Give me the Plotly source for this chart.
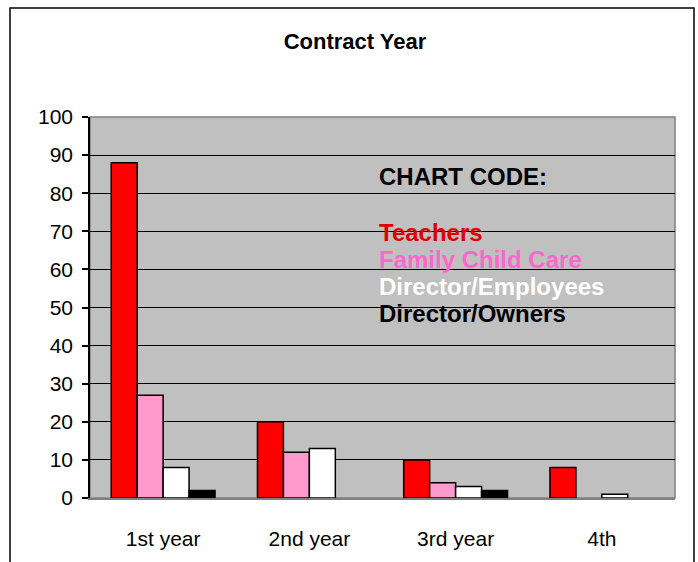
import plotly.graph_objects as go

# ── Data ──
CATEGORIES = ["1st year", "2nd year", "3rd year", "4th"]
TEACHERS = [88, 20, 10, 8]
FAMILY_CHILD_CARE = [27, 12, 4, 0]
DIRECTOR_EMPLOYEES = [8, 13, 3, 1]
DIRECTOR_OWNERS = [2, 0, 2, 0]
Y_TICKS = [0, 10, 20, 30, 40, 50, 60, 70, 80, 90, 100]

SERIES = [
    ("Teachers", TEACHERS, "#FF0000"),
    ("Family Child Care", FAMILY_CHILD_CARE, "#FF99CC"),
    ("Director/Employees", DIRECTOR_EMPLOYEES, "#FFFFFF"),
    ("Director/Owners", DIRECTOR_OWNERS, "#000000"),
]
LEGEND_COLORS = ["#E00000", "#FF66CC", "#FFFFFF", "#000000"]

FONT = "Liberation Sans, Arial, sans-serif"

fig = go.Figure()
for name, vals, color in SERIES:
    fig.add_trace(go.Bar(
        x=CATEGORIES, y=vals, name=name,
        # no outline on empty bars
        marker=dict(color=color, line=dict(color="#000000",
                                           width=[0 if v == 0 else 1.5 for v in vals])),
        showlegend=False,
    ))

# ── Plot area: l=90 .. 675, t=117 .. 498 ──
L, R, T, B = 90, 23, 117, 64
W, H = 698, 562
pw, ph = W - L - R, H - T - B

fig.update_layout(
    width=W, height=H,
    margin=dict(l=L, r=R, t=T, b=B, pad=0),
    paper_bgcolor="white",
    plot_bgcolor="#C0C0C0",
    barmode="group",
    bargap=0.29,
    bargroupgap=0,
    font=dict(family=FONT, size=21, color="#000000"),
    title=dict(text="<b>Contract Year</b>", x=355 / W, xanchor="center",
               y=1 - 41 / H, yanchor="middle", font=dict(size=22, family=FONT)),
)

fig.update_yaxes(
    range=[0, 100], tickvals=Y_TICKS, showgrid=True, gridcolor="#000000", gridwidth=1.4,
    ticks="outside", ticklen=6, tickcolor="#000000", tickwidth=1.5,
    showline=True, linecolor="#000000", linewidth=1.5,
    ticklabelstandoff=5, tickfont=dict(size=21), zeroline=False, automargin=False,
)
fig.update_xaxes(
    showline=True, linecolor="#808080", linewidth=1.5,
    ticks="outside", ticklen=21, tickcolor="rgba(0,0,0,0)",
    tickfont=dict(size=21), automargin=False,
)

# plot-area border (top/right grey)
fig.add_shape(type="rect", xref="paper", yref="paper", x0=0, x1=1, y0=0, y1=1,
              line=dict(color="#808080", width=1.5), layer="below")


def px_x(x):
    return (x - L) / pw


def px_y(y):
    return (H - B - y) / ph


# outer chart frame
fig.add_shape(type="rect", xref="paper", yref="paper",
              x0=px_x(10), x1=px_x(694), y0=px_y(570), y1=px_y(8),
              line=dict(color="#000000", width=1.5))

# text legend
fig.add_annotation(text="<b>CHART CODE:</b>", xref="paper", yref="paper",
                   x=px_x(377), y=px_y(176), xanchor="left", yanchor="middle",
                   showarrow=False, font=dict(size=24, color="#000000"))
legend_y = [232, 259, 286, 313]
for (name, _, _), col, yy in zip(SERIES, LEGEND_COLORS, legend_y):
    fig.add_annotation(text=f"<b>{name}</b>", xref="paper", yref="paper",
                       x=px_x(377), y=px_y(yy), xanchor="left", yanchor="middle",
                       showarrow=False, font=dict(size=24, color=col))

fig.write_html("out.html", config={"displayModeBar": False},
               post_script="document.body.style.margin='0';")
